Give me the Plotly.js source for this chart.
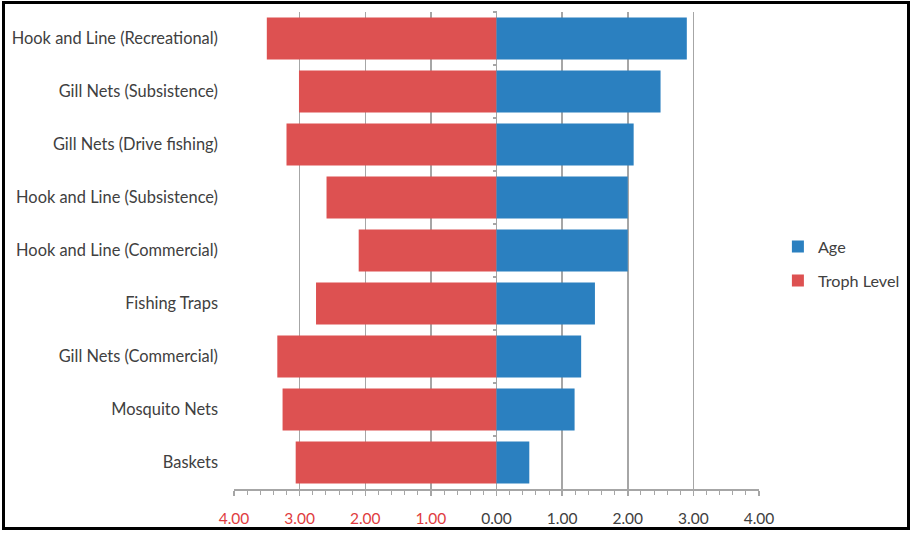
<!DOCTYPE html>
<html>
<head>
<meta charset="utf-8">
<script src="https://cdn.plot.ly/plotly-3.0.1.min.js"></script>
<style>
  html, body { margin: 0; padding: 0; background: #fff; }
  #wrap { position: relative; width: 913px; height: 533px; }
  #chart { width: 913px; height: 533px; }
  #frame { position: absolute; left: 2px; top: 1px; width: 908px; height: 529px;
           border: 3px solid #000; box-sizing: border-box; pointer-events: none; }
</style>
</head>
<body>
<div id="wrap">
  <div id="chart"></div>
  <div id="frame"></div>
</div>
<script>
const categories = [
  "Hook and Line (Recreational)",
  "Gill Nets (Subsistence)",
  "Gill Nets (Drive fishing)",
  "Hook and Line (Subsistence)",
  "Hook and Line (Commercial)",
  "Fishing Traps",
  "Gill Nets (Commercial)",
  "Mosquito Nets",
  "Baskets"
];
const trophLevel = [3.50, 3.01, 3.20, 2.59, 2.10, 2.75, 3.34, 3.26, 3.06];
const age = [2.90, 2.50, 2.09, 2.00, 2.00, 1.50, 1.29, 1.19, 0.50];
const tickValues = [-4, -3, -2, -1, 0, 1, 2, 3, 4];
const tickLabels = ["4.00", "3.00", "2.00", "1.00", "0.00", "1.00", "2.00", "3.00", "4.00"];

const RED = "#DD5151";
const BLUE = "#2B80C0";
const GRID = "#A6A6A6";
const TEXT = "#404040";

const ticktext = tickLabels.map((t, i) =>
  tickValues[i] < 0 ? '<span style="color:#E03C40">' + t + '</span>' : t);

const traces = [
  {
    type: "bar", orientation: "h", name: "Troph Level",
    y: categories, x: trophLevel.map(v => -v),
    xaxis: "x", yaxis: "y",
    marker: { color: RED, line: { width: 0 } },
    legendgroup: "b", legendrank: 2
  },
  {
    type: "bar", orientation: "h", name: "Age",
    y: categories, x: age,
    xaxis: "x", yaxis: "y2",
    marker: { color: BLUE, line: { width: 0 } },
    legendgroup: "a", legendrank: 1
  }
];

const layout = {
  width: 913, height: 533,
  margin: { l: 234, r: 154, t: 12, b: 44, autoexpand: false },
  paper_bgcolor: "#fff", plot_bgcolor: "#fff",
  font: { family: "Lato, 'Open Sans', sans-serif", size: 15, color: TEXT },
  bargap: 0.21,
  showlegend: true,
  legend: {
    x: 1.036, xanchor: "left", y: 0.472, yanchor: "middle",
    traceorder: "grouped", tracegroupgap: 10,
    font: { size: 16.2, color: TEXT }, bgcolor: "rgba(0,0,0,0)"
  },
  xaxis: {
    range: [-4, 4], tickmode: "array", tickvals: tickValues, ticktext: ticktext,
    showgrid: true, gridcolor: GRID, gridwidth: 1.5,
    zeroline: true, zerolinecolor: GRID, zerolinewidth: 1.5,
    showline: true, linecolor: GRID, linewidth: 1.5,
    ticks: "outside", ticklen: 5, tickcolor: GRID, tickwidth: 1.5,
    ticklabelstandoff: 10,
    tickfont: { size: 15.5, color: TEXT },
    minor: { dtick: 0.2, ticks: "outside", ticklen: 4, tickcolor: GRID, tickwidth: 1, showgrid: false },
    fixedrange: true
  },
  yaxis: {
    type: "category", categoryorder: "array", categoryarray: categories,
    autorange: "reversed",
    showgrid: false, zeroline: false, showline: false, ticks: "",
    ticklabelstandoff: 15,
    tickfont: { size: 16.4, color: TEXT },
    fixedrange: true
  },
  yaxis2: {
    type: "category", categoryorder: "array", categoryarray: categories,
    autorange: "reversed",
    overlaying: "y", anchor: "free", position: 0.5, side: "left",
    showgrid: false, zeroline: false, showline: false,
    showticklabels: false,
    ticks: "outside", tickson: "boundaries", ticklen: 4, tickcolor: GRID, tickwidth: 1.5,
    fixedrange: true
  }
};

Plotly.newPlot("chart", traces, layout, { displayModeBar: false, staticPlot: true });
</script>
</body>
</html>
